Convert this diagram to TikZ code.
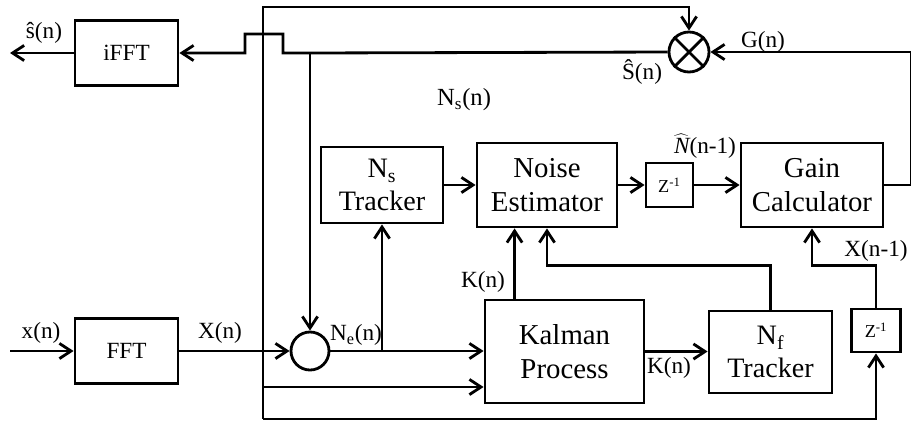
\documentclass[tikz,border=0pt]{standalone}
\usepackage{fontspec}
\setmainfont{Liberation Serif}
\usepackage{tikz}
\usetikzlibrary{arrows.meta, positioning, calc}

\begin{document}
\begin{tikzpicture}[
        x=0.025cm, y=-0.025cm,
        line width=2pt,
        every node/.style={align=center},
        block/.style={
            rectangle, draw=black, line width=2pt,
            inner sep=2pt, font=\fontsize{20.5}{24}\selectfont
        },
        tracker/.style={block, font=\fontsize{20}{23}\selectfont},
        small/.style={
            rectangle, draw=black, line width=2pt,
            inner sep=1pt, font=\fontsize{16.5}{19}\selectfont,
            minimum width=2.575cm, minimum height=1.64cm
        },
        delay/.style={
            rectangle, draw=black, line width=2pt,
            inner sep=1pt, font=\fontsize{13}{15}\selectfont
        },
        sumnode/.style={circle, draw=black, line width=2pt, inner sep=0pt},
        lbl/.style={font=\fontsize{16.5}{19}\selectfont, inner sep=0.5pt},
        arr/.style={-{Straight Barb[length=2.9mm,width=3.8mm]}, line width=2pt}
    ]
    \useasboundingbox (0,0) rectangle (911,423);
    % blocks
    \node[small] (fft) at (126.5,351) {FFT};
    \node[small] (ifft) at (126.5,53) {iFFT};
    \node[tracker, minimum width=3.05cm, minimum height=1.9cm] (nstrk) at (382,185) {N\textsubscript{s}\\Tracker};
    \node[block, minimum width=3.5cm, minimum height=2.1cm] (noise) at (547,185) {Noise\\Estimator};
    \node[delay, minimum width=1.175cm, minimum height=1.1cm] (zone) at (669.5,185) {Z\textsuperscript{-1}};
    \node[block, minimum width=3.55cm, minimum height=2.1cm] (gain) at (812,185) {Gain\\Calculator};
    \node[block, minimum width=3.975cm, minimum height=2.575cm] (kalman) at (564.5,351.5) {Kalman\\Process};
    \node[tracker, minimum width=3.075cm, minimum height=2.05cm] (nftrk) at (770.5,352) {N\textsubscript{f}\\Tracker};
    \node[delay, minimum width=1.225cm, minimum height=1.075cm] (ztwo) at (876,330.5) {Z\textsuperscript{-1}};
    \node[sumnode, minimum size=0.95cm] (sub) at (310,351) {};
    \node[sumnode, minimum size=1.0cm] (mult) at (689,52) {};
    \draw (mult.north west) -- (mult.south east);
    \draw (mult.north east) -- (mult.south west);
    % junctions and free ends
    \coordinate (xin) at (10,351);
    \coordinate (sout) at (10,53);
    \coordinate (jx) at (263,351);
    \coordinate (jtop) at (263,7);
    \coordinate (jk) at (263,387);
    \coordinate (jbot) at (263,419);
    \coordinate (je) at (382,351);
    \coordinate (jsh) at (310,53);
    % connectors
    \draw[arr] (xin) -- (fft.west);
    \draw[arr] (fft.east) -- (sub.west);
    \draw[arr] (jx) -- (jtop) -| (mult.north);
    \draw (jx) -- (jbot);
    \draw[arr] (jk) -- (kalman.west |- jk);
    \draw[arr] (jbot) -| (ztwo.south);
    \draw[arr] (sub.east) -- (kalman.west |- sub.east);
    \draw[arr] (je) -- (nstrk.south);
    \draw[arr] (nstrk) -- (noise);
    \draw[arr] (noise) -- (zone);
    \draw[arr] (zone) -- (gain);
    \draw[arr] (gain.east) -- ++(27,0) |- (mult.east);
    \draw[arr] (mult.west) -- (jsh) -- ++(-27,0) -- ++(0,-19) -- ++(-38,0) -- ++(0,19) -- (ifft.east);
    \draw[arr] (jsh) -- (sub.north);
    \draw[arr] (ifft.west) -- (sout);
    \draw[arr] (kalman.north west) ++(31,0) coordinate (kup) -- (kup |- noise.south);
    \draw[arr] (kalman.east) -- (nftrk.west |- kalman.east);
    \draw[arr] (nftrk.north) -- ++(0,-44) -| (noise.south);
    \draw[arr] (ztwo.north) -- ++(0,-42) -| (gain.south);
    % signal labels
    \node[lbl] (lxin) at (41,333) {x(n)};
    \node[lbl] (lX) at (220,333) {X(n)};
    \node[lbl] (lNe) at (356,335) {N\textsubscript{e}(n)};
    \node[lbl] (lsout) at (44,33) {ŝ(n)};
    \node[lbl] (lShat) at (642,72) {Ŝ(n)};
    \node[lbl] (lG) at (763,42) {G(n)};
    \node[lbl, font=\fontsize{17.5}{20}\selectfont] (lNs) at (464,100) {N\textsubscript{s}(n)};
    \node[lbl] (lNhat) at (705,146) {$\widehat{\textit{N}}$(n-1)};
    \node[lbl] (lK1) at (483,282) {K(n)};
    \node[lbl] (lK2) at (669,368) {K(n)};
    \node[lbl] (lX1) at (876,251) {X(n-1)};
    \end{tikzpicture}
\end{document}
